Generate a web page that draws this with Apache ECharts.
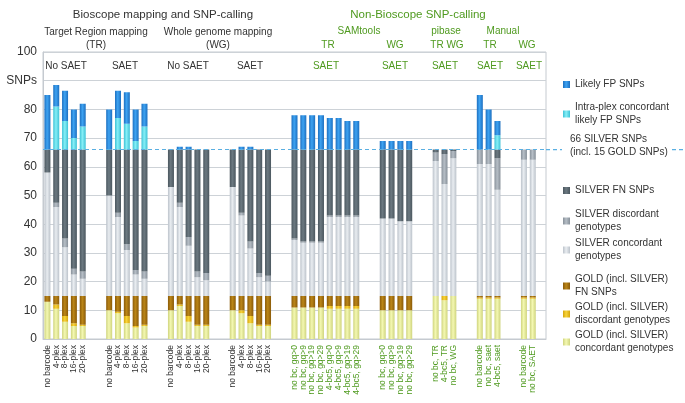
<!DOCTYPE html>
<html>
<head>
<meta charset="utf-8">
<script src="https://cdn.jsdelivr.net/npm/echarts@6/dist/echarts.min.js"></script>
<style>
  html, body { margin: 0; background: #fff; }
  #chart { width: 685px; height: 403px; }
</style>
</head>
<body>
<div id="chart"></div>
<script>
// bar labels per group, left to right
var groups = [
  ["no barcode", "4-plex", "8-plex", "16-plex", "20-plex"],
  ["no barcode", "4-plex", "8-plex", "16-plex", "20-plex"],
  ["no barcode", "4-plex", "8-plex", "16-plex", "20-plex"],
  ["no barcode", "4-plex", "8-plex", "16-plex", "20-plex"],
  ["no bc, gq>0", "no bc, gq>9", "no bc, gq>19", "no bc, gq>29", "4-bc5, gq>0", "4-bc5, gq>9", "4-bc5, gq>19", "4-bc5, gq>29"],
  ["no bc, gq>0", "no bc, gq>9", "no bc, gq>19", "no bc, gq>29"],
  ["no bc, TR", "4-bc5, TR", "no bc, WG"],
  ["no barcode", "no bc, saet", "4-bc5, saet"],
  ["no barcode", "no bc, SAET"]
];
var bioscopeGroups = 4; // first 4 groups are Bioscope (dark labels), rest green

// segment sizes, one value per bar (bottom to top of the stack)
var goldConc = [13,10.5,6,4.5,4.5, 10,9,5.5,4,4.5, 10,11.5,6,4.5,4.5, 10,9,5.5,4.5,4.5, 11,11,11,11,10.5,10.5,10.5,10.5, 10,10,10,10, 15,13.5,15, 14,14,14, 14,14];
var goldDisc = [0,1.5,2,1,0.5, 0,0.5,2.5,0.5,0.5, 0,0.5,2,0.5,0.5, 0,1,2.5,0.5,0.5, 0,0,0,0,1,1,1,1, 0,0,0,0, 0,1.5,0, 0.5,0.5,0.5, 0.5,0.5];
var goldFN = [2,3,7,9.5,10, 5,5.5,7,10.5,10, 5,3,7,10,10, 5,5,7,10,10, 4,4,4,4,3.5,3.5,3.5,3.5, 5,5,5,5, 0,0,0, 0.5,0.5,0.5, 0.5,0.5];
var silverConc = [43,31,17,7.5,6, 35,27.5,16,7.5,6, 38,31,17.5,6.5,5.5, 38,28,16.5,6.5,5, 19.5,18.5,18.5,18.5,27.5,27.5,27.5,27.5, 27,27,26,26, 47,39,48, 46,46,37, 47.5,47.5];
var silverDisc = [0,1.5,3,2,2.5, 0,1.5,2,1.5,2.5, 0,1.5,3,2,2.5, 0,1,2.5,1.5,2, 0.5,0.5,0.5,0.5,0.5,0.5,0.5,0.5, 0,0,0,0, 3,10.5,2.5, 5,5,11, 3.5,3.5];
var silverFN = [8,18.5,31,41.5,42.5, 16,22,33,42,42.5, 13,18.5,30.5,42.5,43, 13,22,32,43,44, 31,32,32,32,23,23,23,23, 24,24,25,25, 1,1.5,0.5, 0,0,3, 0,0];
var intraFP = [0,15,10,4,8, 0,11,9,3,8, 0,0,0,0,0, 0,0,0,0,0, 0,0,0,0,0,0,0,0, 0,0,0,0, 0,0,0, 0,0,5, 0,0];
var likelyFP = [19,7.5,10.5,10,8, 14,9.5,11,11,8, 0,1,1,0,0, 0,1,1,0,0, 12,12,12,12,11,11,10,10, 3,3,3,3, 0,0,0, 19,14,5, 0,0];

var silverLine = 66;

var FONT = "Liberation Sans, Arial, sans-serif";
var GREEN = "#4f9a1f";

// build category slots: 2 empty slots between groups, 1 at the end
var categories = [];
var slotOfBar = [];
var slotGreen = [];
groups.forEach(function (g, gi) {
  if (gi > 0) { categories.push("", ""); slotGreen.push(false, false); }
  g.forEach(function (lab) {
    slotOfBar.push(categories.length);
    categories.push(lab);
    slotGreen.push(gi >= bioscopeGroups);
  });
});
categories.push("");
slotGreen.push(false);

function toSlots(arr) {
  var out = categories.map(function () { return "-"; });
  arr.forEach(function (v, i) { out[slotOfBar[i]] = v; });
  return out;
}

function gloss(edge, mid) {
  return new echarts.graphic.LinearGradient(0, 0, 1, 0, [
    { offset: 0, color: edge },
    { offset: 0.45, color: mid },
    { offset: 1, color: edge }
  ]);
}

var layers = [
  { name: "GOLD (incl. SILVER)\nconcordant genotypes", data: goldConc, edge: "#cfd47e", mid: "#f4f8b2", top: 324 },
  { name: "GOLD (incl. SILVER)\ndiscordant genotypes", data: goldDisc, edge: "#d4a40c", mid: "#f8d43a", top: 296 },
  { name: "GOLD (incl. SILVER)\nFN SNPs", data: goldFN, edge: "#8a5a08", mid: "#bb8618", top: 268 },
  { name: "SILVER concordant\ngenotypes", data: silverConc, edge: "#bcc3cb", mid: "#e9edf1", top: 232 },
  { name: "SILVER discordant\ngenotypes", data: silverDisc, edge: "#879099", mid: "#b6bec6", top: 203 },
  { name: "SILVER FN SNPs", data: silverFN, edge: "#4b575f", mid: "#6c7981", top: 179 },
  { name: "Intra-plex concordant\nlikely FP SNPs", data: intraFP, edge: "#3ec2d6", mid: "#86eff7", top: 96 },
  { name: "Likely FP SNPs", data: likelyFP, edge: "#1c6fc0", mid: "#3ea3f2", top: 73 }
];

var series = layers.map(function (l, i) {
  var s = {
    name: l.name,
    type: "bar",
    stack: "snps",
    barWidth: 6,
    data: toSlots(l.data),
    itemStyle: { color: gloss(l.edge, l.mid) },
    emphasis: { disabled: true }
  };
  if (i === layers.length - 1) {
    s.markLine = {
      silent: true,
      symbol: "none",
      label: { show: false },
      lineStyle: { color: "#5aafe2", type: [4, 3], width: 1.2 },
      data: [{ yAxis: silverLine }]
    };
  }
  return s;
});

var legends = layers.map(function (l) {
  return {
    data: [l.name],
    left: 558,
    top: l.top,
    orient: "vertical",
    selectedMode: false,
    icon: "rect",
    itemWidth: 7,
    itemHeight: 7,
    textStyle: { fontSize: 10, color: "#333", fontFamily: FONT, lineHeight: 13 }
  };
});

function txt(x, y, s, size, color) {
  return {
    type: "text", x: x, y: y, silent: true,
    style: { text: s, fontSize: size, fill: color || "#333", fontFamily: FONT, align: "center", verticalAlign: "middle" }
  };
}

var headers = [
  txt(163, 15, "Bioscope mapping and SNP-calling", 11.5),
  txt(96, 32, "Target Region mapping", 10),
  txt(96, 45, "(TR)", 10),
  txt(218, 32, "Whole genome mapping", 10),
  txt(218, 45, "(WG)", 10),
  txt(418, 15, "Non-Bioscope SNP-calling", 11.5, GREEN),
  txt(359, 31, "SAMtools", 10, GREEN),
  txt(446, 31, "pibase", 10, GREEN),
  txt(503, 31, "Manual", 10, GREEN),
  txt(328, 45, "TR", 10, GREEN),
  txt(395, 45, "WG", 10, GREEN),
  txt(437, 45, "TR", 10, GREEN),
  txt(455, 45, "WG", 10, GREEN),
  txt(490, 45, "TR", 10, GREEN),
  txt(527, 45, "WG", 10, GREEN),
  txt(66, 66, "No SAET", 10),
  txt(125, 66, "SAET", 10),
  txt(188, 66, "No SAET", 10),
  txt(250, 66, "SAET", 10),
  txt(326, 66, "SAET", 10, GREEN),
  txt(395, 66, "SAET", 10, GREEN),
  txt(445, 66, "SAET", 10, GREEN),
  txt(490, 66, "SAET", 10, GREEN),
  txt(529, 66, "SAET", 10, GREEN),
  {
    type: "text", left: 570, top: 133, silent: true,
    style: { text: "66 SILVER SNPs\n(incl. 15 GOLD SNPs)", fontSize: 10, fill: "#333", fontFamily: FONT, lineHeight: 13 }
  }
];

var chart = echarts.init(document.getElementById("chart"));
chart.setOption({
  animation: false,
  grid: { left: 43, right: 139, top: 52, bottom: 64, show: true, borderColor: "#c5cad0", borderWidth: 1 },
  legend: legends,
  xAxis: {
    type: "category",
    data: categories,
    axisTick: { show: false },
    axisLine: { lineStyle: { color: "#c5cad0" } },
    axisLabel: {
      interval: 0,
      rotate: 90,
      margin: 6,
      fontSize: 8.5,
      fontFamily: FONT,
      color: function (v, i) { return slotGreen[i] ? GREEN : "#333"; }
    }
  },
  yAxis: {
    type: "value",
    min: 0,
    max: 100,
    interval: 10,
    axisLine: { show: true, lineStyle: { color: "#c5cad0" } },
    axisTick: { show: false },
    splitLine: { lineStyle: { color: "#cdd2d7" } },
    axisLabel: {
      fontSize: 12,
      color: "#333",
      fontFamily: FONT,
      margin: 6,
      formatter: function (v) { return v === 90 ? "SNPs" : v; }
    }
  },
  series: series,
  graphic: headers
});

// extend the dashed 66-line into the legend area
var y66 = chart.convertToPixel({ yAxisIndex: 0 }, silverLine);
var dash = { stroke: "#5aafe2", lineWidth: 1.2, lineDash: [4, 3] };
chart.setOption({
  graphic: headers.concat([
    { type: "line", silent: true, shape: { x1: 546, y1: y66, x2: 562, y2: y66 }, style: dash },
    { type: "line", silent: true, shape: { x1: 672, y1: y66, x2: 685, y2: y66 }, style: dash }
  ])
});
</script>
</body>
</html>
